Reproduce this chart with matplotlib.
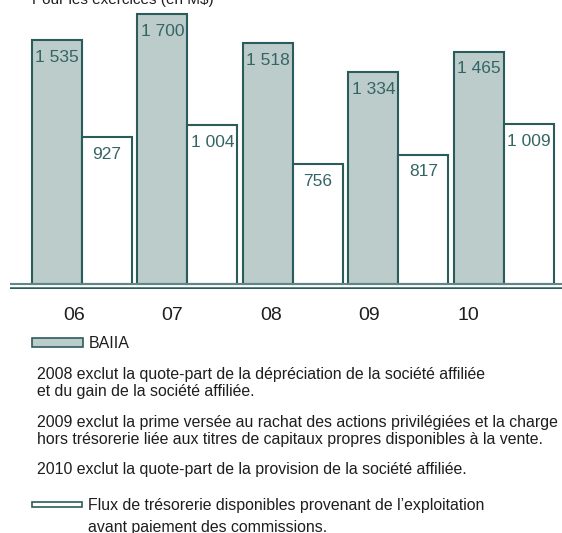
import numpy as np
import matplotlib
matplotlib.use('Agg')
import matplotlib.pyplot as plt
from matplotlib.patches import Rectangle

# Data (M$)
years = ['06', '07', '08', '09', '10']
baiia = [1535, 1700, 1518, 1334, 1465]
flux = [927, 1004, 756, 817, 1009]

note_lines = [
    "2008 exclut la quote-part de la dépréciation de la société affiliée",
    "et du gain de la société affiliée.",
    "2009 exclut la prime versée au rachat des actions privilégiées et la charge",
    "hors trésorerie liée aux titres de capitaux propres disponibles à la vente.",
    "2010 exclut la quote-part de la provision de la société affiliée.",
]
flux_lines = [
    "Flux de trésorerie disponibles provenant de l\u2019exploitation",
    "avant paiement des commissions.",
]

teal = '#2b5c5c'
fill = '#bccccb'
num_col = '#356464'
txt_col = '#1e1e1e'

plt.rcParams['font.family'] = ['Liberation Sans', 'DejaVu Sans']

W, H = 562, 533
fig = plt.figure(figsize=(W / 100, H / 100), dpi=100)

# axes: left at x=10px, bottom at y=289px from top
ax = fig.add_axes([10 / W, (H - 289) / H, 552 / W, 289 / H])
x = np.arange(len(years))
w = 0.474
ax.bar(x - w / 2, baiia, w, color=fill, edgecolor=teal, linewidth=1.5)
ax.bar(x + w / 2, flux, w, color='white', edgecolor=teal, linewidth=1.5)

for xi, v in zip(x - w / 2, baiia):
    ax.annotate(f"{v:,}".replace(",", " "), (xi, v), xytext=(0, -7), textcoords='offset points',
                ha='center', va='top', fontsize=12.5, color=num_col)
for xi, v in zip(x + w / 2, flux):
    ax.annotate(f"{v:,}".replace(",", " "), (xi, v), xytext=(0, -7), textcoords='offset points',
                ha='center', va='top', fontsize=12.5, color=num_col)

ax.set_xlim(-0.6825, 4.55)
ax.set_ylim(-30, 1790)
ax.axhline(0, color='#5f8787', linewidth=1.5, zorder=3)
ax.axhline(-22, color=teal, linewidth=1.8, zorder=3)
ax.axis('off')

# year labels (spaced a little tighter than the bar groups)
for i, yr in enumerate(years):
    fig.text((74 + 98.5 * i) / W, 1 - 320 / H, yr, ha='center', va='baseline',
             fontsize=14, color=txt_col)

# title, clipped by the top edge
fig.text(32 / W, 1 - 4 / H, "Pour les exercices (en M$)", ha='left', va='baseline',
         fontsize=11, color=txt_col)

# legend BAIIA
fig.patches.append(Rectangle((32 / W, 1 - 347 / H), 51 / W, 9 / H, transform=fig.transFigure,
                             facecolor=fill, edgecolor=teal, linewidth=1.2))
fig.text(89 / W, 1 - 348 / H, "BAIIA", ha='left', va='baseline', fontsize=11.5, color=txt_col)

# notes, one line at a time
for line, yb in zip(note_lines, [379, 396, 427, 444, 474]):
    fig.text(37 / W, 1 - yb / H, line, ha='left', va='baseline', fontsize=11.4, color=txt_col)

# legend flux
fig.patches.append(Rectangle((32 / W, 1 - 507 / H), 50 / W, 5 / H, transform=fig.transFigure,
                             facecolor='white', edgecolor=teal, linewidth=1.2))
for line, yb in zip(flux_lines, [510, 532]):
    fig.text(88 / W, 1 - yb / H, line, ha='left', va='baseline', fontsize=11.4, color=txt_col)

fig.savefig('out.png', dpi=100)
